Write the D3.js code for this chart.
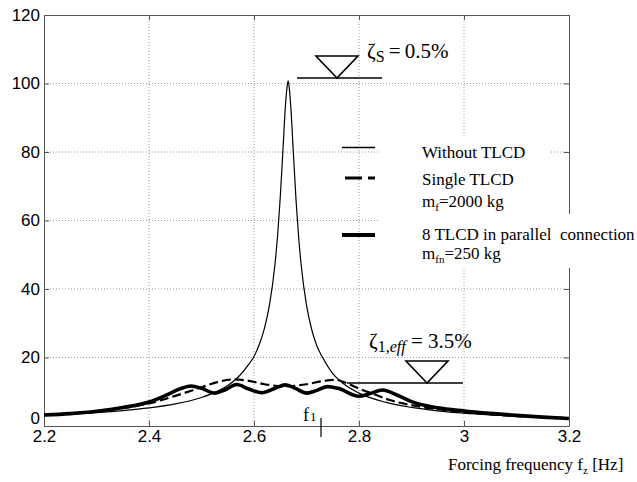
<!DOCTYPE html>
<html>
<head>
<meta charset="utf-8">
<script src="https://cdn.jsdelivr.net/npm/d3@7"></script>
<style>
  body { margin: 0; background: #fff; }
  svg { display: block; }
</style>
</head>
<body>
<svg id="vis" width="637" height="482"></svg>
<script>
// frequency response

const xTicks = [2.2, 2.4, 2.6, 2.8, 3, 3.2];
const yTicks = [0, 20, 40, 60, 80, 100, 120];

// without TLCD (thin)
const thinF = [2.2, 2.25, 2.3, 2.35, 2.4, 2.45, 2.5, 2.53, 2.55, 2.57, 2.59, 2.6, 2.61, 2.62, 2.63, 2.64, 2.645, 2.65, 2.655, 2.66, 2.663, 2.665, 2.667, 2.67, 2.675, 2.68, 2.685, 2.69, 2.7, 2.71, 2.72, 2.73, 2.75, 2.77, 2.8, 2.85, 2.9, 2.95, 3.0, 3.05, 3.1, 3.15, 3.2];
const thinV = [3.14, 3.48, 3.92, 4.5, 5.29, 6.45, 8.33, 10.1, 11.8, 14.3, 18.0, 20.3, 23.8, 28.6, 35.8, 47.3, 55.7, 66.7, 80.2, 93.8, 99.0, 100.8, 99.0, 93.4, 79.7, 66.1, 55.2, 46.8, 35.3, 28.1, 23.3, 20.2, 15.3, 12.4, 9.6, 6.95, 5.43, 4.44, 3.74, 3.23, 2.83, 2.52, 2.26];

// single TLCD (dashed)
const dashF = [2.2, 2.25, 2.3, 2.35, 2.4, 2.45, 2.5, 2.53, 2.56, 2.59, 2.62, 2.66, 2.7, 2.73, 2.755, 2.78, 2.8, 2.83, 2.86, 2.9, 2.95, 3.0, 3.05, 3.1, 3.15, 3.2];
const dashV = [3.2, 3.6, 4.3, 5.2, 6.6, 8.8, 11.3, 12.8, 13.6, 13.2, 12.2, 11.6, 12.2, 13.1, 13.5, 12.3, 10.9, 9.2, 7.5, 6.1, 4.9, 4.1, 3.4, 2.9, 2.6, 2.3];

// 8 TLCD in parallel (thick)
const thickF = [2.2, 2.25, 2.3, 2.35, 2.4, 2.43, 2.46, 2.48, 2.5, 2.525, 2.545, 2.567, 2.59, 2.615, 2.64, 2.66, 2.68, 2.7, 2.72, 2.74, 2.76, 2.8, 2.82, 2.845, 2.87, 2.9, 2.95, 3.0, 3.05, 3.1, 3.15, 3.2];
const thickV = [3.2, 3.6, 4.3, 5.4, 7.0, 8.8, 10.9, 11.7, 11.0, 9.6, 10.6, 12.1, 10.8, 9.7, 11.0, 12.0, 10.9, 9.6, 10.4, 11.5, 11.0, 8.7, 9.4, 10.5, 9.2, 7.1, 5.3, 4.4, 3.7, 3.1, 2.6, 2.2];

const svg = d3.select("#vis");
const plotL = 44, plotR = 569, plotT = 15, plotB = 426;

const x = d3.scaleLinear().domain([2.2, 3.2]).range([plotL, plotR]);
const y = d3.scaleLinear().domain([0, 120]).range([plotB, plotT]);

const sans = "'Liberation Sans', Arial, sans-serif";
const serif = "'Liberation Serif', 'Times New Roman', serif";

// grid
const grid = svg.append("g")
  .attr("stroke", "#9a9a9a")
  .attr("stroke-width", 1)
  .attr("stroke-dasharray", "1,2");
xTicks.slice(1, -1).forEach(t => {
  grid.append("line")
    .attr("x1", x(t)).attr("x2", x(t))
    .attr("y1", plotT).attr("y2", plotB);
});
yTicks.slice(1, -1).forEach(t => {
  grid.append("line")
    .attr("x1", plotL).attr("x2", plotR)
    .attr("y1", y(t)).attr("y2", y(t));
});

// axes with inward ticks on all four sides
const axisColor = "#555";
function styleAxis(g) {
  g.select(".domain").attr("stroke", axisColor);
  g.selectAll(".tick line").attr("stroke", axisColor);
  g.selectAll(".tick text")
    .attr("fill", "#000")
    .attr("font-family", sans)
    .attr("font-size", "17px");
}

svg.append("g")
  .attr("transform", `translate(0,${plotB})`)
  .call(d3.axisBottom(x).tickValues(xTicks).tickFormat(d3.format("")).tickSizeInner(-5).tickSizeOuter(0).tickPadding(4))
  .call(styleAxis);

svg.append("g")
  .attr("transform", `translate(0,${plotT})`)
  .call(d3.axisTop(x).tickValues(xTicks).tickFormat("").tickSizeInner(-5).tickSizeOuter(0))
  .call(styleAxis);

svg.append("g")
  .attr("transform", `translate(${plotL},0)`)
  .call(d3.axisLeft(y).tickValues(yTicks).tickSizeInner(-5).tickSizeOuter(0).tickPadding(4))
  .call(styleAxis)
  .call(g => g.selectAll(".tick text").filter(d => d === 0).attr("dy", "-0.12em"));

svg.append("g")
  .attr("transform", `translate(${plotR},0)`)
  .call(d3.axisRight(y).tickValues(yTicks).tickFormat("").tickSizeInner(-5).tickSizeOuter(0))
  .call(styleAxis);

// curves
const line = d3.line()
  .x(d => x(d[0]))
  .y(d => y(d[1]))
  .curve(d3.curveMonotoneX);

svg.append("path")
  .datum(d3.zip(thinF, thinV))
  .attr("d", line)
  .attr("fill", "none")
  .attr("stroke", "#000")
  .attr("stroke-width", 1.2);

svg.append("path")
  .datum(d3.zip(dashF, dashV))
  .attr("d", line)
  .attr("fill", "none")
  .attr("stroke", "#000")
  .attr("stroke-width", 2.2)
  .attr("stroke-dasharray", "9,4");

svg.append("path")
  .datum(d3.zip(thickF, thickV))
  .attr("d", line)
  .attr("fill", "none")
  .attr("stroke", "#000")
  .attr("stroke-width", 3.6);

// damping level markers
function levelMark(f0, f1, level, tipF) {
  svg.append("line")
    .attr("x1", x(f0)).attr("x2", x(f1))
    .attr("y1", y(level)).attr("y2", y(level))
    .attr("stroke", "#000").attr("stroke-width", 1.3);
  const tx = x(tipF), ty = y(level);
  svg.append("path")
    .attr("d", `M${tx},${ty}L${tx - 21},${ty - 22}L${tx + 21},${ty - 22}Z`)
    .attr("fill", "none")
    .attr("stroke", "#000")
    .attr("stroke-width", 1.6);
}

levelMark(2.682, 2.844, 101.6, 2.758);
const zs = svg.append("text")
  .attr("x", 367).attr("y", 58)
  .attr("font-family", serif).attr("font-size", "21px");
zs.append("tspan").text("ζ");
zs.append("tspan").attr("font-size", "16px").attr("dy", 4).text("S");
zs.append("tspan").attr("dy", -4).text("\u2009=\u20090.5%");

levelMark(2.777, 2.998, 12.55, 2.9295);
const z1 = svg.append("text")
  .attr("x", 369).attr("y", 348)
  .attr("font-family", serif).attr("font-size", "21px");
z1.append("tspan").text("ζ");
z1.append("tspan").attr("font-size", "16px").attr("dy", 4).text("1,");
z1.append("tspan").attr("font-size", "16px").attr("font-style", "italic").text("eff");
z1.append("tspan").attr("dy", -4).text(" = 3.5%");

// f1 marker
svg.append("line")
  .attr("x1", x(2.7276)).attr("x2", x(2.7276))
  .attr("y1", 418).attr("y2", 437)
  .attr("stroke", "#000").attr("stroke-width", 1.2);
const f1 = svg.append("text")
  .attr("x", 303).attr("y", 421)
  .attr("font-family", serif).attr("font-size", "18px");
f1.append("tspan").text("f");
f1.append("tspan").attr("font-size", "13px").attr("dx", 1).text("1");

// legend
const legendBg = svg.append("g").attr("fill", "#fff");
legendBg.append("rect").attr("x", 380).attr("y", 138).attr("width", 170).attr("height", 76);
legendBg.append("rect").attr("x", 380).attr("y", 214).attr("width", 257).attr("height", 54);

svg.append("line")
  .attr("x1", 342).attr("x2", 375).attr("y1", 147.5).attr("y2", 147.5)
  .attr("stroke", "#000").attr("stroke-width", 1.3);
svg.append("line")
  .attr("x1", 345).attr("x2", 375).attr("y1", 178).attr("y2", 178)
  .attr("stroke", "#000").attr("stroke-width", 3)
  .attr("stroke-dasharray", "17,6");
svg.append("line")
  .attr("x1", 342).attr("x2", 375).attr("y1", 235).attr("y2", 235)
  .attr("stroke", "#000").attr("stroke-width", 4);

function legendText(yPos, parts) {
  const t = svg.append("text")
    .attr("x", 422).attr("y", yPos)
    .attr("font-family", serif).attr("font-size", "17px");
  parts.forEach(p => {
    const s = t.append("tspan").text(p.text);
    if (p.sub) s.attr("font-size", "11px").attr("dy", 4);
    if (p.after) s.attr("dy", -4);
  });
}

legendText(158, [{ text: "Without TLCD" }]);
legendText(185, [{ text: "Single TLCD" }]);
legendText(207, [{ text: "m" }, { text: "f", sub: true }, { text: "=2000 kg", after: true }]);
legendText(240, [{ text: "8 TLCD in parallel\u00a0 connection" }]);
legendText(259, [{ text: "m" }, { text: "fn", sub: true }, { text: "=250 kg", after: true }]);

// axis title
const xt = svg.append("text")
  .attr("x", 448).attr("y", 470)
  .attr("font-family", serif).attr("font-size", "17px");
xt.append("tspan").text("Forcing frequency f");
xt.append("tspan").attr("font-size", "11px").attr("dy", 4).text("z");
xt.append("tspan").attr("dy", -4).text(" [Hz]");
</script>
</body>
</html>
